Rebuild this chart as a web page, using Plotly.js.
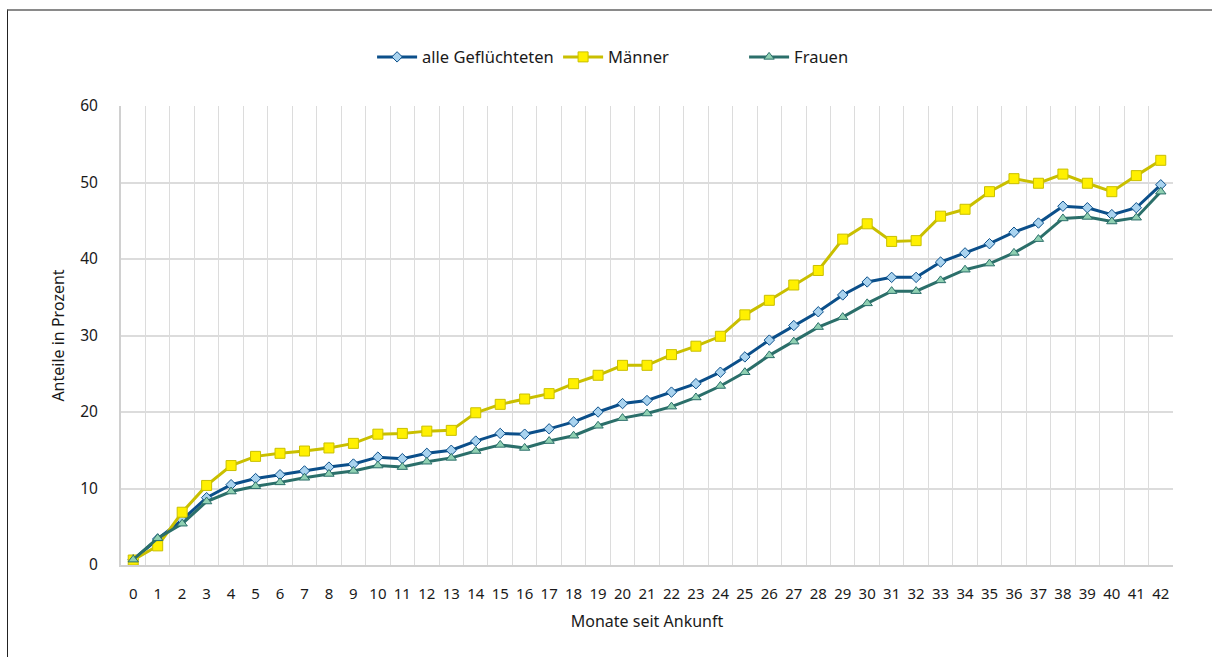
<!DOCTYPE html>
<html>
<head>
<meta charset="utf-8">
<script src="https://cdn.plot.ly/plotly-3.0.1.min.js"></script>
<style>
  html, body { margin: 0; padding: 0; background: #fff; }
  #chart { position: absolute; left: 0; top: 0; width: 1212px; height: 657px; }
  #frame { position: absolute; left: 7px; top: 9px; width: 1205px; height: 648px;
           border-top: 2px solid #8a8a8a; border-left: 1px solid #222; box-sizing: border-box; pointer-events: none; }
</style>
</head>
<body>
<div id="chart"></div>
<div id="frame"></div>
<script>
const months = ["0","1","2","3","4","5","6","7","8","9","10","11","12","13","14","15","16","17","18","19","20","21","22","23","24","25","26","27","28","29","30","31","32","33","34","35","36","37","38","39","40","41","42"];

const alle = [0.7, 3.4, 5.9, 8.8, 10.5, 11.3, 11.8, 12.3, 12.8, 13.2, 14.1, 13.9, 14.6, 15.0, 16.2, 17.2, 17.1, 17.8, 18.7, 20.0, 21.1, 21.5, 22.6, 23.7, 25.2, 27.2, 29.4, 31.3, 33.1, 35.3, 37.0, 37.6, 37.6, 39.6, 40.8, 42.0, 43.5, 44.7, 46.9, 46.7, 45.8, 46.7, 49.7];

const maenner = [0.65, 2.5, 6.9, 10.4, 13.0, 14.2, 14.6, 14.9, 15.3, 15.9, 17.1, 17.2, 17.5, 17.6, 19.9, 21.0, 21.7, 22.4, 23.7, 24.8, 26.1, 26.1, 27.5, 28.6, 29.9, 32.7, 34.6, 36.6, 38.5, 42.6, 44.6, 42.3, 42.4, 45.6, 46.5, 48.8, 50.5, 49.9, 51.1, 49.9, 48.8, 50.9, 52.9];

const frauen = [0.7, 3.5, 5.4, 8.3, 9.6, 10.3, 10.8, 11.4, 11.9, 12.3, 13.0, 12.8, 13.5, 14.0, 14.9, 15.7, 15.3, 16.2, 16.9, 18.2, 19.2, 19.8, 20.7, 21.9, 23.4, 25.2, 27.4, 29.2, 31.1, 32.4, 34.2, 35.8, 35.8, 37.2, 38.6, 39.4, 40.8, 42.6, 45.3, 45.5, 44.9, 45.4, 48.8];

const yTicks = [0, 10, 20, 30, 40, 50, 60];

const font = "Noto Sans, Open Sans, sans-serif";
const txt = "#1a1a1a";

const traces = [
  {
    x: months, y: alle, name: "alle Geflüchteten", type: "scatter", mode: "lines+markers",
    line: { color: "#0b4f8a", width: 3 },
    marker: { symbol: "diamond", size: 8, color: "#a9d3ef", line: { color: "#0b4f8a", width: 1 } }
  },
  {
    x: months, y: maenner, name: "Männer", type: "scatter", mode: "lines+markers",
    line: { color: "#c9bf00", width: 3 },
    marker: { symbol: "square", size: 10, color: "#fff000", line: { color: "#c9bf00", width: 1 } }
  },
  {
    x: months, y: frauen, name: "Frauen", type: "scatter", mode: "lines+markers",
    line: { color: "#2b6f6a", width: 3 },
    marker: { symbol: "triangle-up", size: 9, color: "#8fd0b2", line: { color: "#2b6f6a", width: 1 } }
  }
];

const layout = {
  width: 1212, height: 657,
  margin: { l: 121, r: 39, t: 106, b: 92 },
  paper_bgcolor: "#ffffff",
  plot_bgcolor: "#ffffff",
  font: { family: font, size: 16, color: txt },
  showlegend: true,
  legend: {
    orientation: "h", xref: "container", x: 0.307, xanchor: "left",
    yref: "container", y: 0.913, yanchor: "middle",
    font: { family: font, size: 16.5, color: txt },
    traceorder: "normal", itemwidth: 40, entrywidth: 131
  },
  xaxis: {
    type: "category",
    range: [-0.5, 42.5],
    tickson: "boundaries",
    tickangle: 0,
    showgrid: true, gridcolor: "#dcdcdc", gridwidth: 1,
    showline: true, linecolor: "#d0d0d0", linewidth: 2,
    ticks: "", ticklabelstandoff: 14,
    tickfont: { family: font, size: 15, color: txt },
    title: { text: "Monate seit Ankunft", font: { family: font, size: 16, color: txt }, standoff: 14 },
    fixedrange: true, zeroline: false
  },
  yaxis: {
    range: [0, 60],
    tickvals: yTicks,
    ticktext: yTicks.map(String),
    showgrid: true, gridcolor: "#dcdcdc", gridwidth: 2,
    showline: true, linecolor: "#d0d0d0", linewidth: 2,
    zeroline: false,
    ticks: "", ticklabelstandoff: 18,
    tickfont: { family: font, size: 15.5, color: txt },
    title: { text: "Anteile in Prozent", font: { family: font, size: 16, color: txt }, standoff: 12 },
    fixedrange: true
  }
};

Plotly.newPlot("chart", traces, layout, { displayModeBar: false, staticPlot: true });
</script>
</body>
</html>
